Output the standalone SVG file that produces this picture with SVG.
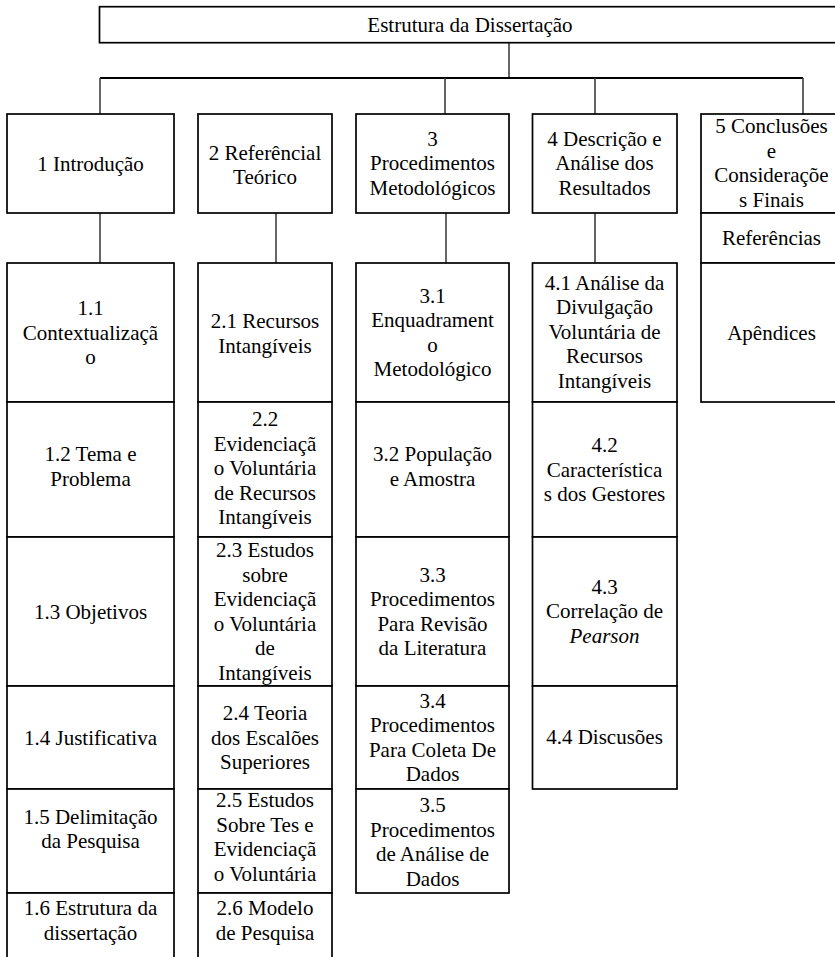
<svg xmlns="http://www.w3.org/2000/svg" width="835" height="957" viewBox="0 0 835 957">
<style>
.b{fill:#fff;stroke:#000;stroke-width:1.7}
.c{stroke:#404040;stroke-width:1.6;fill:none}
svg text, text{font-family:"Liberation Serif",serif !important;font-size:21px;text-anchor:middle}
.i{font-style:italic}
</style>
<rect width="835" height="957" fill="#fff"/>
<g id="connectors">
<path class="c" d="M509 42.7V78"/>
<path class="c" d="M100 78H803" style="stroke:#000;stroke-width:2"/>
<path class="c" d="M100 78V114M445 78V114M595 78V114M803 78V114"/>
<path class="c" d="M100 213V263M276 213V263M446 213V263M595 213V263"/>
</g>
<g font-family="Liberation Serif" font-size="21" fill="#000" text-anchor="middle">
<g id="root"><rect class="b" x="99.5" y="6.7" width="742" height="36"/><text x="470" y="32">Estrutura da Dissertação</text></g>
<g id="c1"><rect class="b" x="7" y="114" width="167" height="99"/><text x="90.5" y="170.5">1 Introdução</text></g>
<g id="c2"><rect class="b" x="198" y="114" width="134" height="99"/><text x="265" y="159.5">2 Referêncial</text><text x="265" y="184">Teórico</text></g>
<g id="c3"><rect class="b" x="356" y="114" width="153" height="99"/><text x="432.5" y="145.5">3</text><text x="432.5" y="170">Procedimentos</text><text x="432.5" y="194.5">Metodológicos</text></g>
<g id="c4"><rect class="b" x="532.5" y="114" width="144.5" height="99"/><text x="604.5" y="145.5">4 Descrição e</text><text x="604.5" y="170">Análise dos</text><text x="604.5" y="194.5">Resultados</text></g>
<g id="c5"><rect class="b" x="701" y="114" width="142" height="99"/><text x="771.5" y="133">5 Conclusões</text><text x="771.5" y="157.5">e</text><text x="771.5" y="182">Consideraçõe</text><text x="771.5" y="206.5">s Finais</text></g>
<g id="ref"><rect class="b" x="701" y="213" width="142" height="50"/><text x="771.5" y="245">Referências</text></g>
<g id="apx"><rect class="b" x="701" y="263" width="142" height="139"/><text x="771.5" y="339.5">Apêndices</text></g>
<g id="n11"><rect class="b" x="7" y="263" width="167" height="139"/><text x="90.5" y="315">1.1</text><text x="90.5" y="339.5">Contextualizaçã</text><text x="90.5" y="364">o</text></g>
<g id="n12"><rect class="b" x="7" y="402" width="167" height="135"/><text x="90.5" y="461">1.2 Tema e</text><text x="90.5" y="485.5">Problema</text></g>
<g id="n13"><rect class="b" x="7" y="537" width="167" height="149"/><text x="90.5" y="618.5">1.3 Objetivos</text></g>
<g id="n14"><rect class="b" x="7" y="686" width="167" height="103"/><text x="90.5" y="744.5">1.4 Justificativa</text></g>
<g id="n15"><rect class="b" x="7" y="789" width="167" height="104"/><text x="90.5" y="823.5">1.5 Delimitação</text><text x="90.5" y="848">da Pesquisa</text></g>
<g id="n16"><rect class="b" x="7" y="893" width="167" height="70"/><text x="90.5" y="915">1.6 Estrutura da</text><text x="90.5" y="939.5">dissertação</text></g>
<g id="n21"><rect class="b" x="198" y="263" width="134" height="139"/><text x="265" y="328">2.1 Recursos</text><text x="265" y="352.5">Intangíveis</text></g>
<g id="n22"><rect class="b" x="198" y="402" width="134" height="135"/><text x="265" y="426">2.2</text><text x="265" y="450.5">Evidenciaçã</text><text x="265" y="475">o Voluntária</text><text x="265" y="499.5">de Recursos</text><text x="265" y="524">Intangíveis</text></g>
<g id="n23"><rect class="b" x="198" y="537" width="134" height="149"/><text x="265" y="557">2.3 Estudos</text><text x="265" y="581.5">sobre</text><text x="265" y="606">Evidenciaçã</text><text x="265" y="630.5">o Voluntária</text><text x="265" y="655">de</text><text x="265" y="679.5">Intangíveis</text></g>
<g id="n24"><rect class="b" x="198" y="686" width="134" height="103"/><text x="265" y="720">2.4 Teoria</text><text x="265" y="744.5">dos Escalões</text><text x="265" y="769">Superiores</text></g>
<g id="n25"><rect class="b" x="198" y="789" width="134" height="104"/><text x="265" y="807">2.5 Estudos</text><text x="265" y="831.5">Sobre Tes e</text><text x="265" y="856">Evidenciaçã</text><text x="265" y="880.5">o Voluntária</text></g>
<g id="n26"><rect class="b" x="198" y="893" width="134" height="70"/><text x="265" y="915">2.6 Modelo</text><text x="265" y="939.5">de Pesquisa</text></g>
<g id="n31"><rect class="b" x="356" y="263" width="153" height="139"/><text x="432.5" y="302.5">3.1</text><text x="432.5" y="327">Enquadrament</text><text x="432.5" y="351.5">o</text><text x="432.5" y="376">Metodológico</text></g>
<g id="n32"><rect class="b" x="356" y="402" width="153" height="135"/><text x="432.5" y="461">3.2 População</text><text x="432.5" y="485.5">e Amostra</text></g>
<g id="n33"><rect class="b" x="356" y="537" width="153" height="149"/><text x="432.5" y="581.5">3.3</text><text x="432.5" y="606">Procedimentos</text><text x="432.5" y="630.5">Para Revisão</text><text x="432.5" y="655">da Literatura</text></g>
<g id="n34"><rect class="b" x="356" y="686" width="153" height="103"/><text x="432.5" y="707.5">3.4</text><text x="432.5" y="732">Procedimentos</text><text x="432.5" y="756.5">Para Coleta De</text><text x="432.5" y="781">Dados</text></g>
<g id="n35"><rect class="b" x="356" y="789" width="153" height="104"/><text x="432.5" y="812">3.5</text><text x="432.5" y="836.5">Procedimentos</text><text x="432.5" y="861">de Análise de</text><text x="432.5" y="885.5">Dados</text></g>
<g id="n41"><rect class="b" x="532.5" y="263" width="144.5" height="139"/><text x="604.5" y="289.5">4.1 Análise da</text><text x="604.5" y="314">Divulgação</text><text x="604.5" y="338.5">Voluntária de</text><text x="604.5" y="363">Recursos</text><text x="604.5" y="387.5">Intangíveis</text></g>
<g id="n42"><rect class="b" x="532.5" y="402" width="144.5" height="135"/><text x="604.5" y="452">4.2</text><text x="604.5" y="476.5">Característica</text><text x="604.5" y="501">s dos Gestores</text></g>
<g id="n43"><rect class="b" x="532.5" y="537" width="144.5" height="149"/><text x="604.5" y="593.5">4.3</text><text x="604.5" y="618">Correlação de</text><text x="604.5" y="642.5" class="i">Pearson</text></g>
<g id="n44"><rect class="b" x="532.5" y="686" width="144.5" height="103"/><text x="604.5" y="744">4.4 Discusões</text></g>
</g>
</svg>
